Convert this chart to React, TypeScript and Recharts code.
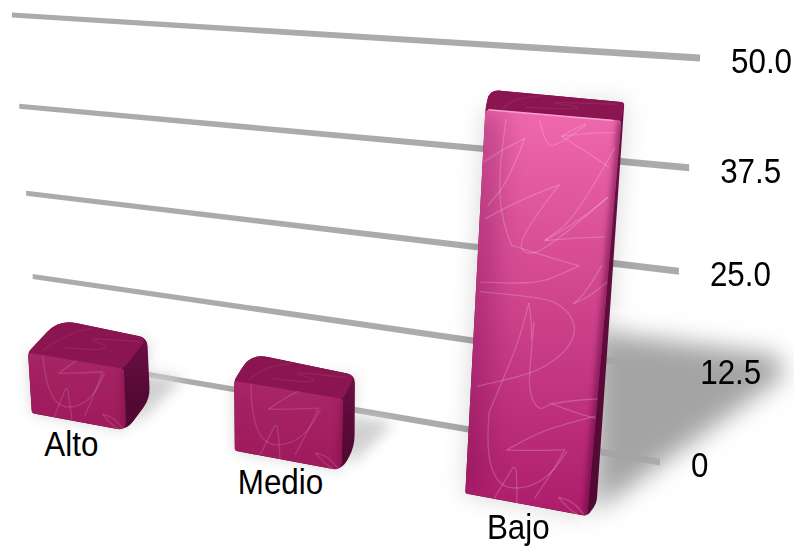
import { BarChart, Bar, XAxis, YAxis, CartesianGrid } from 'recharts';

const levels = ['Alto', 'Medio', 'Bajo'];
const counts = [8.5, 9.3, 44.6];
const valueTicks = [0, 12.5, 25, 37.5, 50];
const tickText = ['0', '12.5', '25.0', '37.5', '50.0'];

const chartData = levels.map((level, i) => ({ level, count: counts[i] }));

type Pt = [number, number];

// plot rectangle inside the svg, everything gets projected from here
const LEFT = 100;
const TOP = 50;
const W = 600;
const H = 400;

// four corner homography: (0,0) (1,0) (1,1) (0,1) -> quad
const makeProjection = (q: Pt[]) => {
  const [[x0, y0], [x1, y1], [x2, y2], [x3, y3]] = q;
  const dx1 = x1 - x2;
  const dx2 = x3 - x2;
  const dy1 = y1 - y2;
  const dy2 = y3 - y2;
  const sx = x0 - x1 + x2 - x3;
  const sy = y0 - y1 + y2 - y3;
  const den = dx1 * dy2 - dx2 * dy1;
  const g = (sx * dy2 - dx2 * sy) / den;
  const h = (dx1 * sy - sx * dy1) / den;
  const a = x1 - x0 + g * x1;
  const b = x3 - x0 + h * x3;
  const d = y1 - y0 + g * y1;
  const e = y3 - y0 + h * y3;
  return (px: number, py: number): Pt => {
    const u = (px - LEFT) / W;
    const v = (py - TOP) / H;
    const w = g * u + h * v + 1;
    return [(a * u + b * v + x0) / w, (d * u + e * v + y0) / w];
  };
};

const wall = makeProjection([[12, 15], [700, 58], [660, 462], [39, 356]]);
const front = makeProjection([[-46, 23], [705, 72], [657, 529], [-17, 404]]);
const back = makeProjection([[-11, 0], [708, 54], [667, 520], [18, 368]]);

const roundedPath = (pts: Pt[], radii: number[]) => {
  let out = '';
  pts.forEach((p, i) => {
    const prev = pts[(i + pts.length - 1) % pts.length];
    const next = pts[(i + 1) % pts.length];
    const r = radii[i];
    const toward = (o: Pt): Pt => {
      const len = Math.hypot(o[0] - p[0], o[1] - p[1]) || 1;
      const k = Math.min(r, len / 2) / len;
      return [p[0] + (o[0] - p[0]) * k, p[1] + (o[1] - p[1]) * k];
    };
    const a = toward(prev);
    const b = toward(next);
    out += `${i === 0 ? 'M' : 'L'}${a[0]} ${a[1]} Q${p[0]} ${p[1]} ${b[0]} ${b[1]} `;
  });
  return out + 'Z';
};

// smooth line through the points, midpoints as quad joins
const smooth = (pts: Pt[]) => {
  let out = `M${pts[0][0]} ${pts[0][1]} `;
  for (let i = 1; i < pts.length - 1; i++) {
    const mx = (pts[i][0] + pts[i + 1][0]) / 2;
    const my = (pts[i][1] + pts[i + 1][1]) / 2;
    out += `Q${pts[i][0]} ${pts[i][1]} ${mx} ${my} `;
  }
  const last = pts[pts.length - 1];
  return out + `L${last[0]} ${last[1]}`;
};

// fabric scribble, s across the bar (0-100), t up from its base in the same units
const scribble: Pt[][] = [
  [[24, 0], [33, 20], [40, 36], [42, 18], [43, 0]],
  [[16, 77], [15, 42], [27, 12], [49, 14], [68, 30], [80, 54]],
  [[57, 7], [68, 30], [78, 55]],
  [[78, 55], [55, 50], [32, 46]],
  [[32, 46], [48, 60], [68, 73], [105, 91]],
  [[65, 93], [85, 88], [105, 86]],
  [[65, 93], [85, 100], [105, 104]],
  [[76, 12], [86, 12], [97, 1]],
  [[76, 12], [84, 4], [92, 0]],
  [[47, 160], [46, 120], [47, 100], [55, 85], [65, 93]],
  [[5, 98], [40, 112], [60, 125], [76, 143], [80, 163], [64, 180], [32, 180], [3, 179]],
  [[16, 77], [27, 112], [34, 135], [39, 157], [42, 175]],
  [[42, 175], [45, 160], [46, 145]],
  [[26, 220], [17, 239], [13, 274], [16, 319]],
  [[26, 220], [50, 215], [78, 210]],
  [[78, 210], [60, 198], [43, 191], [3, 187]],
  [[31, 305], [15, 295], [1, 284]],
  [[31, 305], [21, 272], [6, 250]],
  [[59, 272], [32, 258], [4, 239]],
  [[59, 272], [29, 225], [39, 212], [60, 228], [95, 266]],
  [[51, 227], [75, 245], [95, 266]],
  [[51, 227], [75, 232], [95, 235]],
  [[58, 309], [68, 316], [75, 320]],
  [[58, 309], [75, 300], [94, 289]],
  [[58, 309], [77, 313], [96, 315]],
  [[41, 320], [47, 299], [58, 304], [75, 319]],
  [[97, 304], [74, 249], [51, 227]],
  [[95, 213], [85, 190], [76, 179]],
  [[76, 179], [86, 185], [100, 200]],
];

// same fabric on the lid, s across and d from front edge (0) to back edge (1)
const lidScribble: Pt[][] = [
  [[12, 0.1], [18, 0.6], [40, 0.95]],
  [[30, 0.3], [60, 0.35], [72, 0.55], [40, 0.65], [95, 0.85]],
];

const mix = (a: number[], b: number[], k: number) =>
  `rgb(${a.map((c, i) => Math.round(c + (b[i] - c) * k)).join(',')})`;

// three sided rounded block, front face on one projected plane and back edges on another
const Block = (props: any) => {
  const { x, y, width, height, index } = props;
  const base = y + height;
  const right = x + width;
  const fTL = front(x, y);
  const fTR = front(right, y);
  const fBR = front(right, base);
  const fBL = front(x, base);
  const bTL = back(x, y);
  const bTR = back(right, y);
  const bBR = back(right, base);
  const glow = Math.min(1, height / 352);
  const topColor = mix([150, 22, 84], [240, 104, 174], glow);
  const lowColor = mix([156, 24, 88], [172, 28, 106], glow);
  const r = 5 + (1 - glow) * 8;
  const unit = 1.1;
  const frontId = `front-${index}`;
  const clipId = `clip-${index}`;
  const sideId = `side-${index}`;
  const softId = `soft-${index}`;
  const wideId = `wide-${index}`;
  const face = roundedPath([fTL, fTR, fBR, fBL], [3, 3, r * 0.8, 2]);
  return (
    <g>
      <defs>
        <linearGradient id={frontId} gradientUnits="userSpaceOnUse" x1="0" y1={fTL[1]} x2="0" y2={fBR[1]}>
          <stop offset="0" stopColor={topColor} />
          <stop offset="1" stopColor={lowColor} />
        </linearGradient>
        <linearGradient id={sideId} gradientUnits="userSpaceOnUse" x1="0" y1={bTR[1]} x2="0" y2={bBR[1]}>
          <stop offset="0" stopColor="#6e0f46" />
          <stop offset="1" stopColor="#520932" />
        </linearGradient>
        <clipPath id={clipId}>
          <path d={face} />
        </clipPath>
        <filter id={softId} filterUnits="userSpaceOnUse" x="0" y="0" width="794" height="546">
          <feGaussianBlur stdDeviation={3} />
        </filter>
        <filter id={wideId} filterUnits="userSpaceOnUse" x="0" y="0" width="794" height="546">
          <feGaussianBlur stdDeviation={14} />
        </filter>
      </defs>
      <path d={roundedPath([fBL, fBR, bBR, bTR, bTL, fTL], [2, r, r, r * 0.7, r + 6, 4])} fill={`url(#${sideId})`} />
      <path d={roundedPath([fTL, fTR, bTR, bTL], [3, 4, r * 0.7, r + 6])} fill="#8b1550" />
      <g fill="none" stroke="#ffffff" strokeOpacity={0.07} strokeWidth={1.2}>
        {lidScribble.map((line, i) => (
          <path
            key={i}
            d={smooth(
              line.map(([s, d]): Pt => {
                const f = front(x + (s / 100) * width, y);
                const b = back(x + (s / 100) * width, y);
                return [f[0] + (b[0] - f[0]) * d, f[1] + (b[1] - f[1]) * d];
              }),
            )}
          />
        ))}
      </g>
      <path d={face} fill={`url(#${frontId})`} />
      <g clipPath={`url(#${clipId})`}>
        <path
          d={`M${fTL[0]} ${fTL[1]} L${fBL[0]} ${fBL[1]}`}
          stroke="#6a0040"
          strokeOpacity={0.34 * glow}
          strokeWidth={34}
          filter={`url(#${wideId})`}
        />
        <path
          d={`M${fTR[0]} ${fTR[1]} L${fBR[0]} ${fBR[1]}`}
          stroke="#4e0030"
          strokeOpacity={0.2 + 0.4 * glow}
          strokeWidth={7}
          filter={`url(#${softId})`}
        />
        <g fill="none" stroke="#ffffff" strokeOpacity={0.12 + 0.07 * glow} strokeWidth={1.3}>
          {scribble.map((line, i) => (
            <path
              key={i}
              d={smooth(line.map(([s, t]): Pt => front(x + (s / 100) * width, base - t * unit)))}
            />
          ))}
        </g>
      </g>
      {glow > 0.5 && <path d={`M${fTL[0] + 3} ${fTL[1]} L${fTR[0] - 8} ${fTR[1]}`} stroke="#f8a0d0" strokeWidth={1.5} />}
    </g>
  );
};

// soft shadow thrown to the right, its length follows the bar height
const BlockShadow = (props: any) => {
  const { x, y, width, height, index } = props;
  const base = y + height;
  const right = x + width;
  const fBL = front(x, base);
  const fBR = front(right, base);
  const fTL = front(x, y);
  const bTR = back(right, y);
  const bBR = back(right, base);
  const h = bBR[1] - bTR[1];
  const tall = h > 200;
  const from: Pt = [bBR[0] + (bTR[0] - bBR[0]) * 0.43, bBR[1] + (bTR[1] - bBR[1]) * 0.43];
  const tip: Pt = [from[0] + h * 0.42, from[1] + h * 0.06];
  const id = `blur-${index}`;
  return (
    <g>
      <defs>
        <filter id={id} filterUnits="userSpaceOnUse" x="0" y="0" width="794" height="546">
          <feGaussianBlur stdDeviation={tall ? 12 : 7} />
        </filter>
      </defs>
      <g filter={`url(#${id})`}>
        <path d={`M${fTL[0]} ${fTL[1]} L${bTR[0]} ${bTR[1]} L${bBR[0]} ${bBR[1]} L${fBR[0]} ${fBR[1]} L${fBL[0]} ${fBL[1]} Z`} fill="#000" opacity={0.16} />
        <path
          d={`M${from[0] - 12} ${from[1]} L${tip[0]} ${tip[1]} L${tip[0] + 8} ${tip[1] + h * 0.05} L${fBR[0] + 10} ${fBR[1] - 6} Z`}
          fill={tall ? '#a4a4a4' : '#d0d0d0'}
        />
      </g>
    </g>
  );
};

// horizontal rules narrow slightly toward the far end, the low two lighten in the shadow
const WallLine = (props: any) => {
  const { x1, y1, x2, y2 } = props;
  const a = wall(x1, y1);
  const b = wall(x2, y2);
  const id = `rule-${Math.round(y1)}`;
  const inShade = b[1] > 330;
  return (
    <g>
      <defs>
        <linearGradient id={id} gradientUnits="userSpaceOnUse" x1="590" y1="0" x2="615" y2="0">
          <stop offset="0" stopColor="#ababab" />
          <stop offset="1" stopColor={inShade ? '#bababa' : '#ababab'} />
        </linearGradient>
      </defs>
      <polygon
        points={`${a[0]},${a[1] - 2.5} ${b[0]},${b[1] - 3.5} ${b[0]},${b[1] + 3.5} ${a[0]},${a[1] + 2.5}`}
        fill={`url(#${id})`}
      />
    </g>
  );
};

// labels are set a little tall and narrow
const Label = ({ x, y, anchor, children }: any) => (
  <text
    transform={`translate(${x} ${y}) scale(0.91 1)`}
    textAnchor={anchor}
    fontSize={34.5}
    fontFamily="Liberation Sans"
    fill="#000"
  >
    {children}
  </text>
);

const ValueTick = (props: any) => {
  const { y, payload } = props;
  const end = wall(LEFT + W, y);
  return (
    <Label x={end[0] + 31} y={end[1] + 15} anchor="start">
      {tickText[valueTicks.indexOf(payload.value)]}
    </Label>
  );
};

const LevelTick = (props: any) => {
  const { x, payload } = props;
  const p = front(x, TOP + H);
  return (
    <Label x={p[0] - 7} y={p[1] + 34} anchor="middle">
      {payload.value}
    </Label>
  );
};

export default function App() {
  return (
    <div style={{ position: 'absolute', left: 0, top: 0, width: 794, height: 546 }}>
      <BarChart
        width={794}
        height={546}
        data={chartData}
        margin={{ top: TOP, left: LEFT, right: 794 - LEFT - W - 1, bottom: 546 - TOP - H - 1 }}
        barCategoryGap="26%"
      >
        <XAxis xAxisId="shadow" dataKey="level" hide />
        <Bar xAxisId="shadow" dataKey="count" isAnimationActive={false} shape={BlockShadow} />
        <CartesianGrid vertical={false} horizontal={WallLine} />
        <Bar dataKey="count" isAnimationActive={false} shape={Block} />
        <XAxis dataKey="level" height={1} interval={0} axisLine={false} tickLine={false} tick={LevelTick} />
        <YAxis
          orientation="right"
          width={1}
          domain={[0, 50]}
          ticks={valueTicks}
          interval={0}
          axisLine={false}
          tickLine={false}
          tick={ValueTick}
        />
      </BarChart>
    </div>
  );
}
